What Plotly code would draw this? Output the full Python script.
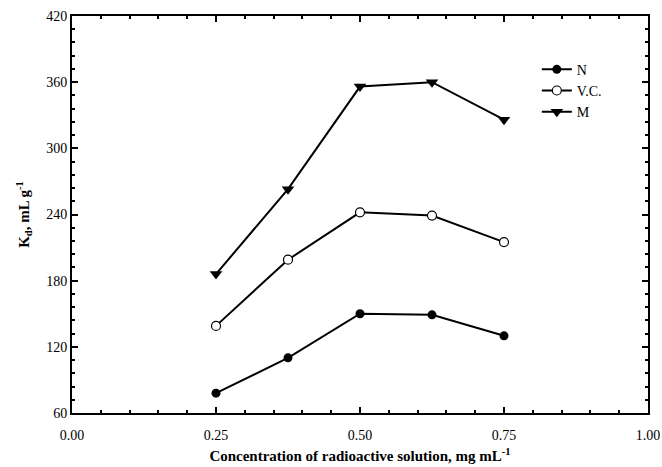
import plotly.graph_objects as go

conc = [0.25, 0.375, 0.50, 0.625, 0.75]
kd_n = [78, 110, 150, 149, 130]
kd_vc = [139, 199, 242, 239, 215]
kd_m = [186, 263, 356, 360, 326]

font_family = "Liberation Serif"

fig = go.Figure()
fig.add_trace(go.Scatter(x=conc, y=kd_n, name="N", mode="lines+markers",
                         line=dict(color="black", width=2),
                         marker=dict(symbol="circle", size=9, color="black")))
fig.add_trace(go.Scatter(x=conc, y=kd_vc, name="V.C.", mode="lines+markers",
                         line=dict(color="black", width=2),
                         marker=dict(symbol="circle", size=9, color="white",
                                     line=dict(color="black", width=1.2))))
fig.add_trace(go.Scatter(x=conc, y=kd_m, name="M", mode="lines+markers",
                         line=dict(color="black", width=2),
                         marker=dict(symbol="triangle-down", size=11, color="black")))

axis_common = dict(showline=True, linecolor="black", linewidth=2, mirror="ticks",
                   ticks="inside", ticklen=6, tickwidth=1.5, tickcolor="black",
                   showgrid=False, zeroline=False, automargin=False,
                   tickfont=dict(family=font_family, size=14, color="black"))

fig.update_xaxes(range=[0, 1], dtick=0.25, tick0=0, tickformat=".2f",
                 ticklabelstandoff=8,
                 minor=dict(dtick=0.05, ticks="inside", ticklen=3, tickwidth=1.5, tickcolor="black"),
                 title=dict(text="<b>Concentration of radioactive solution, mg mL<sup>-1</sup></b>",
                            font=dict(family=font_family, size=15, color="black"), standoff=9),
                 **axis_common)
fig.update_yaxes(range=[60, 420], dtick=60, tick0=60,
                 minor=dict(dtick=12, ticks="inside", ticklen=3, tickwidth=1.5, tickcolor="black"),
                 title=dict(text="<b>K<sub>d</sub>, mL g<sup>-1</sup></b>",
                            font=dict(family=font_family, size=15, color="black"), standoff=13),
                 **axis_common)

fig.update_layout(width=662, height=467, margin=dict(l=72, r=14, t=16, b=54),
                  paper_bgcolor="white", plot_bgcolor="white",
                  font=dict(family=font_family, color="black"),
                  legend=dict(x=0.807, y=0.905, xanchor="left", yanchor="top",
                              bgcolor="rgba(0,0,0,0)", tracegroupgap=0,
                              font=dict(family=font_family, size=14, color="black")),
                  showlegend=True)

fig.write_html("out.html")
